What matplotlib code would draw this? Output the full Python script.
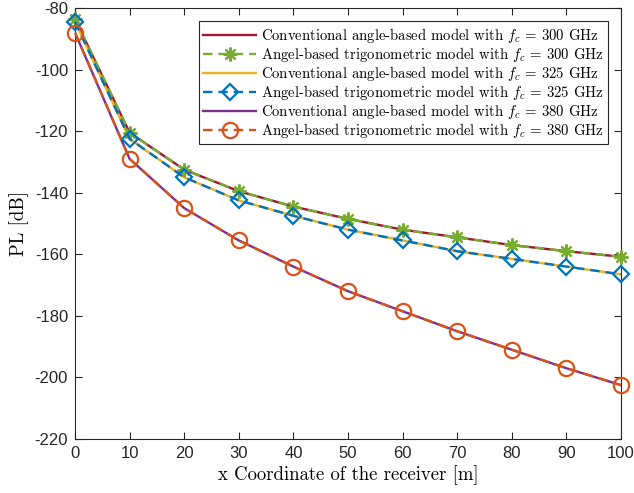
import matplotlib
matplotlib.use("Agg")
import matplotlib.pyplot as plt

x = [0, 10, 20, 30, 40, 50, 60, 70, 80, 90, 100]
pl_conv_300 = [-83.6, -120.5, -132.5, -139.5, -144.5, -148.5, -152.0, -154.5, -157.0, -159.0, -160.8]
pl_trig_300 = [-83.6, -120.5, -132.5, -139.5, -144.5, -148.5, -152.0, -154.5, -157.0, -159.0, -160.8]
pl_conv_325 = [-84.5, -122.5, -135.0, -142.5, -147.5, -152.0, -155.5, -159.0, -161.5, -164.0, -166.5]
pl_trig_325 = [-84.5, -122.5, -135.0, -142.5, -147.5, -152.0, -155.5, -159.0, -161.5, -164.0, -166.5]
pl_conv_380 = [-88.0, -129.0, -145.0, -155.5, -164.0, -172.0, -178.5, -185.0, -191.0, -197.0, -202.5]
pl_trig_380 = [-88.0, -129.0, -145.0, -155.5, -164.0, -172.0, -178.5, -185.0, -191.0, -197.0, -202.5]

labels = [
    r"Conventional angle-based model with $f_c$ = 300 GHz",
    r"Angel-based trigonometric model with $f_c$ = 300 GHz",
    r"Conventional angle-based model with $f_c$ = 325 GHz",
    r"Angel-based trigonometric model with $f_c$ = 325 GHz",
    r"Conventional angle-based model with $f_c$ = 380 GHz",
    r"Angel-based trigonometric model with $f_c$ = 380 GHz",
]
xticks = [0, 10, 20, 30, 40, 50, 60, 70, 80, 90, 100]
yticks = [-220, -200, -180, -160, -140, -120, -100, -80]

plt.rcParams['mathtext.fontset'] = 'cm'
serif = ['cmr10', 'DejaVu Serif']
tickfont = 'Liberation Sans'

fig = plt.figure(figsize=(6.34, 4.93), dpi=100)
ax = fig.add_axes([0.1183, 0.1095, 0.8612, 0.8743])

lw = 1.7
ds = (4, 2.5)
ax.plot(x, pl_conv_300, color='#A2142F', lw=lw, label=labels[0])
ax.plot(x, pl_trig_300, color='#77AC30', lw=lw, ls='--', dashes=ds, marker=(8, 2, 0),
        ms=10, mew=1.6, label=labels[1], clip_on=False, zorder=3)
ax.plot(x, pl_conv_325, color='#EDB120', lw=lw, label=labels[2])
ax.plot(x, pl_trig_325, color='#0072BD', lw=lw, ls='--', dashes=ds, marker='D',
        ms=8, mew=1.6, mfc='none', label=labels[3], clip_on=False, zorder=3)
ax.plot(x, pl_conv_380, color='#7E2F8E', lw=lw, label=labels[4])
ax.plot(x, pl_trig_380, color='#D95319', lw=lw, ls='--', dashes=ds, marker='o',
        ms=11, mew=1.6, mfc='none', label=labels[5], clip_on=False, zorder=3)

ax.set_xlim(0, 100)
ax.set_ylim(-220, -80)
ax.set_xticks(xticks)
ax.set_yticks(yticks)
ax.set_xticklabels([str(v) for v in xticks], fontfamily=tickfont, fontsize=12)
ax.set_yticklabels([str(v) for v in yticks], fontfamily=tickfont, fontsize=12)
ax.tick_params(direction='in', top=True, right=True, length=5, width=0.8,
               color='#262626', labelcolor='#262626', pad=5)
for s in ax.spines.values():
    s.set_color('#262626')
    s.set_linewidth(0.8)

ax.set_xlabel("x Coordinate of the receiver [m]", fontfamily=serif, fontsize=13.5, labelpad=3)
ax.set_ylabel("PL [dB]", fontfamily=serif, fontsize=13.5, labelpad=4)

leg = ax.legend(loc='upper right', prop={'family': serif, 'size': 10.6},
                handlelength=3.6, handletextpad=0.3, labelspacing=0.0,
                borderpad=0.3, borderaxespad=0.9, fancybox=False, frameon=True,
                edgecolor='#262626', framealpha=1)
leg.get_frame().set_linewidth(0.8)
leg.set_zorder(5)

fig.savefig("out.png", dpi=100)
